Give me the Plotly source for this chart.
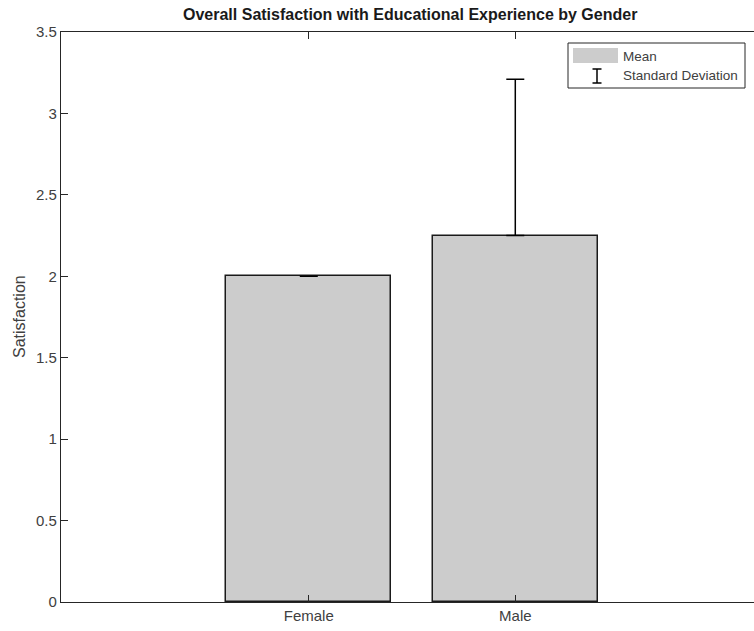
import plotly.graph_objects as go

# ---- data ----
categories = ["Female", "Male"]
cat_pos = [1, 2]
means = [2.0, 2.25]
sds = [0.0, 0.96]
ytick_vals = [0, 0.5, 1, 1.5, 2, 2.5, 3, 3.5]
ytick_text = ["0", "0.5", "1", "1.5", "2", "2.5", "3", "3.5"]

W, H = 754, 631
L, R, T, B = 61, 754, 32, 602  # plot area bounds in page pixels

def px(x):
    return (x - L) / (R - L)

def py(y):
    return (B - y) / (B - T)

FONT = "Liberation Sans, Arial, Helvetica, sans-serif"
AXC = "#262626"
TXT = "#404040"

fig = go.Figure()
fig.add_trace(go.Bar(
    x=cat_pos, y=means, width=0.8,
    marker=dict(color="#cccccc", line=dict(color="#1a1a1a", width=1.5)),
    showlegend=False, hoverinfo="skip",
))
fig.add_trace(go.Scatter(
    x=cat_pos, y=means, mode="markers",
    marker=dict(size=0.1, color="rgba(0,0,0,0)"),
    error_y=dict(type="data", array=sds, arrayminus=[0] * len(sds),
                 color="#000000", thickness=1.5, width=9),
    showlegend=False, hoverinfo="skip",
))

fig.update_layout(
    width=W, height=H,
    margin=dict(l=L, r=W - R, t=T, b=H - B, pad=0),
    plot_bgcolor="white", paper_bgcolor="white",
    font=dict(family=FONT, color=TXT, size=15),
    xaxis=dict(
        range=[-0.2, 3.156], tickmode="array", tickvals=cat_pos, ticktext=categories,
        showline=True, linecolor=AXC, linewidth=1.2, mirror="ticks",
        ticks="inside", ticklen=7, tickcolor=AXC, tickwidth=1,
        showgrid=False, zeroline=False, tickfont=dict(size=15),
    ),
    yaxis=dict(
        range=[0, 3.5], tickmode="array", tickvals=ytick_vals, ticktext=ytick_text,
        showline=True, linecolor=AXC, linewidth=1.2, mirror=False,
        ticks="inside", ticklen=7, tickcolor=AXC, tickwidth=1,
        showgrid=False, zeroline=False, tickfont=dict(size=15),
    ),
    bargap=0,
)

# title
fig.add_annotation(
    text="<b>Overall Satisfaction with Educational Experience by Gender</b>",
    xref="paper", yref="paper", x=px(410), y=py(15),
    xanchor="center", yanchor="middle", showarrow=False,
    font=dict(size=16, color="#1a1a1a", family=FONT),
)
# y label
fig.add_annotation(
    text="Satisfaction", xref="paper", yref="paper",
    x=px(19), y=py(317), textangle=-90, xanchor="center", yanchor="middle",
    showarrow=False, font=dict(size=16, color=TXT, family=FONT),
)

# legend (drawn manually)
fig.add_shape(type="rect", xref="paper", yref="paper",
              x0=px(568), x1=px(745), y0=py(88), y1=py(43),
              line=dict(color=AXC, width=1), fillcolor="white")
fig.add_shape(type="rect", xref="paper", yref="paper",
              x0=px(573), x1=px(618), y0=py(63), y1=py(48),
              line=dict(width=0), fillcolor="#cccccc")
fig.add_shape(type="line", xref="paper", yref="paper",
              x0=px(597), x1=px(597), y0=py(83), y1=py(69),
              line=dict(color="#000000", width=1.5))
for yy in (69, 83):
    fig.add_shape(type="line", xref="paper", yref="paper",
                  x0=px(592.5), x1=px(601.5), y0=py(yy), y1=py(yy),
                  line=dict(color="#000000", width=1.5))
fig.add_annotation(text="Mean", xref="paper", yref="paper", x=px(621), y=py(56),
                   xanchor="left", yanchor="middle", showarrow=False,
                   font=dict(size=13.5, color=TXT, family=FONT))
fig.add_annotation(text="Standard Deviation", xref="paper", yref="paper", x=px(621), y=py(75),
                   xanchor="left", yanchor="middle", showarrow=False,
                   font=dict(size=13.5, color=TXT, family=FONT))

fig.write_html(
    "out.html",
    config={"displayModeBar": False},
    post_script="document.body.style.margin='0';document.body.style.overflow='hidden';",
)
